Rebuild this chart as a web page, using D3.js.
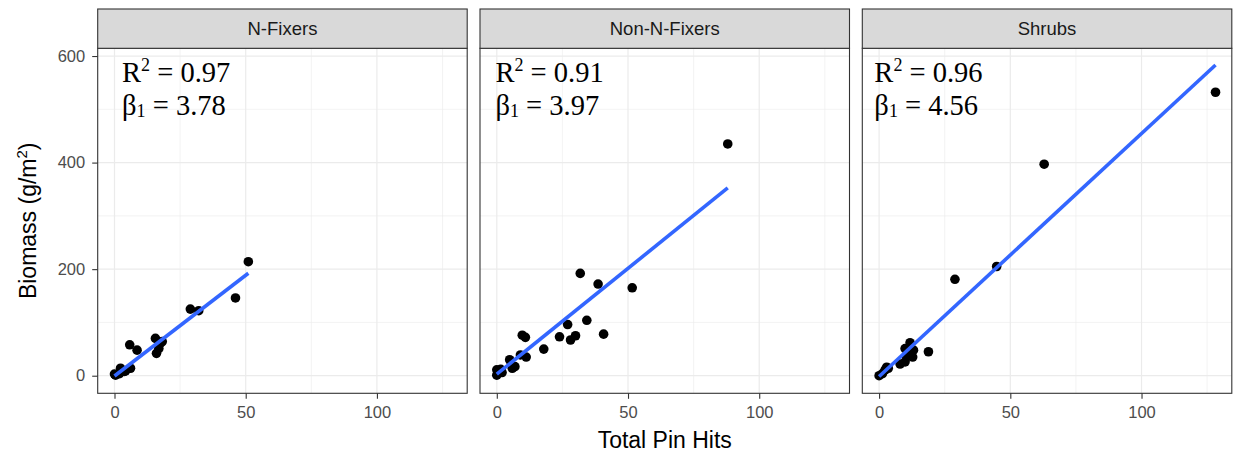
<!DOCTYPE html>
<html>
<head>
<meta charset="utf-8">
<script src="https://cdn.jsdelivr.net/npm/d3@7"></script>
<style>
  html, body { margin: 0; padding: 0; background: #ffffff; }
  svg { display: block; }
</style>
</head>
<body>
<svg id="chart" width="1235" height="455"></svg>
<script>
// Facet names
const groups = ["N-Fixers", "Non-N-Fixers", "Shrubs"];

// Total pin hits (x) and biomass in g/m^2 (y), per facet
const nFixersX = [0, 0.4, 1.9, 2.3, 3.8, 4.2, 6.1, 5.8, 8.6, 15.6, 16, 16.9, 17.5, 18.2, 28.9, 32.1, 46.1, 51];
const nFixersY = [3, 1, 4, 14, 8, 9, 14, 58, 48, 70, 42, 51, 61, 64, 125, 122, 146, 214];

const nonFixersX = [0, 0, 1.5, 2, 4.9, 5.9, 6.9, 9, 9.7, 10.9, 11.2, 17.9, 23.9, 27, 28.1, 30, 31.8, 34.3, 38.6, 40.7, 51.6, 88];
const nonFixersY = [1, 11, 12, 6, 30, 14, 17, 39, 76, 72, 35, 50, 73, 96, 67, 75, 192, 104, 172, 78, 165, 435];

const shrubsX = [0, 1.3, 2.3, 2.9, 3.5, 8, 9.9, 9.9, 10.5, 11, 11.8, 12.8, 13.1, 18.8, 28.9, 44.8, 62.9, 128.2];
const shrubsY = [0, 4, 11, 16, 14, 22, 26, 51, 36, 43, 62, 35, 48, 45, 181, 205, 397, 532];

// Linear fit summaries per facet
const rSquared = [0.97, 0.91, 0.96];
const slopes = [3.78, 3.97, 4.56];
const intercepts = [-0.5, 3, -1.5];

// Axis ticks
const xTicks = [0, 50, 100];
const xMinorTicks = [25, 75, 125];
const yTicks = [0, 200, 400, 600];
const yMinorTicks = [100, 300, 500];

const seriesX = [nFixersX, nonFixersX, shrubsX];
const seriesY = [nFixersY, nonFixersY, shrubsY];

// Layout
const panelW = 369.5, gap = 12.8, left0 = 97.7;
const stripTop = 9, plotTop = 48.3, plotBottom = 393.3;
const labelXData = [2.9, -0.5, -1.8];

const svg = d3.select("#chart");
const sans = "'Liberation Sans', Arial, Helvetica, sans-serif";
const serif = "'Liberation Serif', 'Times New Roman', serif";

const y = d3.scaleLinear().domain([-33, 614.5]).range([plotBottom, plotTop]);

groups.forEach((name, i) => {
  const px = left0 + i * (panelW + gap);
  const x = d3.scaleLinear().domain([-6.4, 134.4]).range([px, px + panelW]);
  const g = svg.append("g");

  // panel background
  g.append("rect").attr("x", px).attr("y", plotTop)
    .attr("width", panelW).attr("height", plotBottom - plotTop)
    .attr("fill", "#ffffff");

  // minor grid
  g.selectAll(".xminor").data(xMinorTicks).join("line")
    .attr("x1", d => x(d)).attr("x2", d => x(d))
    .attr("y1", plotTop).attr("y2", plotBottom)
    .attr("stroke", "#ebebeb").attr("stroke-width", 0.6);
  g.selectAll(".yminor").data(yMinorTicks).join("line")
    .attr("x1", px).attr("x2", px + panelW)
    .attr("y1", d => y(d)).attr("y2", d => y(d))
    .attr("stroke", "#ebebeb").attr("stroke-width", 0.6);
  // major grid
  g.selectAll(".xmajor").data(xTicks).join("line")
    .attr("x1", d => x(d)).attr("x2", d => x(d))
    .attr("y1", plotTop).attr("y2", plotBottom)
    .attr("stroke", "#ebebeb").attr("stroke-width", 1.2);
  g.selectAll(".ymajor").data(yTicks).join("line")
    .attr("x1", px).attr("x2", px + panelW)
    .attr("y1", d => y(d)).attr("y2", d => y(d))
    .attr("stroke", "#ebebeb").attr("stroke-width", 1.2);

  // points
  const pts = seriesX[i].map((v, k) => ({ x: v, y: seriesY[i][k] }));
  g.selectAll(".pt").data(pts).join("circle")
    .attr("cx", d => x(d.x)).attr("cy", d => y(d.y))
    .attr("r", 4.8).attr("fill", "#000000");

  // fitted line over the observed x range
  const [xmin, xmax] = d3.extent(seriesX[i]);
  const fit = [xmin, xmax].map(v => ({ x: v, y: intercepts[i] + slopes[i] * v }));
  g.append("path").datum(fit)
    .attr("d", d3.line().x(d => x(d.x)).y(d => y(d.y)))
    .attr("stroke", "#3366FF").attr("stroke-width", 3.6)
    .attr("fill", "none").attr("stroke-linecap", "butt");

  // fit annotation
  const lx = x(labelXData[i]);
  const t1 = g.append("text").attr("x", lx).attr("y", 81.5)
    .attr("font-family", serif).attr("font-size", 28.5).attr("fill", "#000");
  t1.append("tspan").text("R");
  t1.append("tspan").attr("font-size", 18).attr("dy", -11).text("2");
  t1.append("tspan").attr("dy", 11).text(" = " + rSquared[i].toFixed(2));

  const t2 = g.append("text").attr("x", lx).attr("y", 115)
    .attr("font-family", serif).attr("font-size", 28.5).attr("fill", "#000");
  t2.append("tspan").text("\u03B2");
  t2.append("tspan").attr("font-size", 18).attr("dy", 2).text("1");
  t2.append("tspan").attr("dy", -2).text(" = " + slopes[i].toFixed(2));

  // panel border
  g.append("rect").attr("x", px).attr("y", plotTop)
    .attr("width", panelW).attr("height", plotBottom - plotTop)
    .attr("fill", "none").attr("stroke", "#333333").attr("stroke-width", 1.1);

  // strip
  g.append("rect").attr("x", px).attr("y", stripTop)
    .attr("width", panelW).attr("height", plotTop - stripTop)
    .attr("fill", "#d9d9d9").attr("stroke", "#333333").attr("stroke-width", 1.1);
  g.append("text").attr("x", px + panelW / 2).attr("y", (stripTop + plotTop) / 2)
    .attr("dy", "0.35em").attr("text-anchor", "middle")
    .attr("font-family", sans).attr("font-size", 18.5).attr("fill", "#1a1a1a")
    .text(name);

  // x axis
  const xAxis = g.append("g").attr("transform", `translate(0,${plotBottom})`)
    .call(d3.axisBottom(x).tickValues(xTicks).tickSize(5.5).tickPadding(7).tickFormat(d3.format("d")));
  xAxis.select(".domain").remove();
  xAxis.selectAll("line").attr("stroke", "#333333").attr("stroke-width", 1.1);
  xAxis.selectAll("text").attr("font-family", sans).attr("font-size", 16.5).attr("fill", "#4d4d4d");

  // y axis on first panel
  if (i === 0) {
    const yAxis = g.append("g").attr("transform", `translate(${px},0)`)
      .call(d3.axisLeft(y).tickValues(yTicks).tickSize(5.5).tickPadding(7).tickFormat(d3.format("d")));
    yAxis.select(".domain").remove();
    yAxis.selectAll("line").attr("stroke", "#333333").attr("stroke-width", 1.1);
    yAxis.selectAll("text").attr("font-family", sans).attr("font-size", 16.5).attr("fill", "#4d4d4d");
  }
});

// axis titles
const plotsLeft = left0, plotsRight = left0 + 3 * panelW + 2 * gap;
svg.append("text").attr("x", (plotsLeft + plotsRight) / 2).attr("y", 448)
  .attr("text-anchor", "middle").attr("font-family", sans).attr("font-size", 23)
  .attr("fill", "#000").text("Total Pin Hits");

const yt = svg.append("text")
  .attr("transform", `translate(36,${(plotTop + plotBottom) / 2}) rotate(-90)`)
  .attr("text-anchor", "middle").attr("font-family", sans).attr("font-size", 23)
  .attr("fill", "#000");
yt.append("tspan").text("Biomass (g/m");
yt.append("tspan").attr("font-size", 15).attr("dy", -9).text("2");
yt.append("tspan").attr("dy", 9).text(")");
</script>
</body>
</html>
